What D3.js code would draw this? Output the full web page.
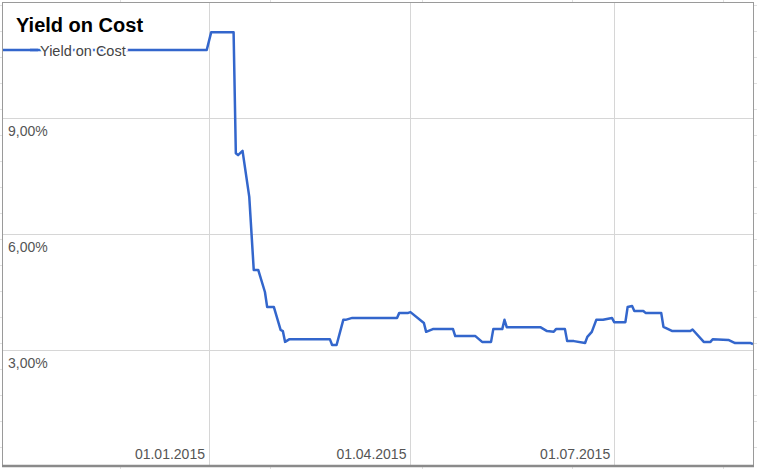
<!DOCTYPE html>
<html>
<head>
<meta charset="utf-8">
<script src="https://cdn.jsdelivr.net/npm/d3@7"></script>
<style>
  body { margin: 0; background: #fff; }
  svg { display: block; font-family: "Liberation Sans", Arial, sans-serif; }
</style>
</head>
<body>
<svg id="chart" width="757" height="469"></svg>
<script>
// series
var dates = [
  "2014-10-01", "2014-12-31", "2015-01-02", "2015-01-12", "2015-01-13",
  "2015-01-14", "2015-01-16", "2015-01-19", "2015-01-21", "2015-01-23",
  "2015-01-26", "2015-01-27", "2015-01-30", "2015-02-02", "2015-02-03",
  "2015-02-04", "2015-02-06", "2015-02-24", "2015-02-25", "2015-02-27",
  "2015-03-02", "2015-03-03", "2015-03-06", "2015-03-26", "2015-03-27",
  "2015-03-31", "2015-04-01", "2015-04-07", "2015-04-08", "2015-04-11",
  "2015-04-20", "2015-04-21", "2015-04-30", "2015-05-03", "2015-05-07",
  "2015-05-08", "2015-05-12", "2015-05-13", "2015-05-14", "2015-05-29",
  "2015-06-01", "2015-06-04", "2015-06-05", "2015-06-09", "2015-06-10",
  "2015-06-13", "2015-06-18", "2015-06-19", "2015-06-21", "2015-06-23",
  "2015-06-26", "2015-06-30", "2015-07-01", "2015-07-06", "2015-07-07",
  "2015-07-09", "2015-07-10", "2015-07-14", "2015-07-15", "2015-07-22",
  "2015-07-23", "2015-07-27", "2015-08-04", "2015-08-05", "2015-08-10",
  "2015-08-13", "2015-08-14", "2015-08-21", "2015-08-24", "2015-08-31",
  "2015-09-01"
];
var yieldOnCost = [
  10.76, 10.76, 11.22, 11.22, 8.09,
  8.04, 8.15, 6.96, 5.07, 5.07,
  4.50, 4.11, 4.11, 3.52, 3.49,
  3.21, 3.28, 3.28, 3.13, 3.13,
  3.78, 3.78, 3.83, 3.83, 3.96,
  3.96, 3.98, 3.70, 3.47, 3.54,
  3.54, 3.36, 3.36, 3.21, 3.21,
  3.54, 3.54, 3.78, 3.59, 3.59,
  3.49, 3.47, 3.54, 3.54, 3.23,
  3.23, 3.18, 3.34, 3.47, 3.78,
  3.78, 3.83, 3.72, 3.72, 4.11,
  4.14, 4.01, 4.01, 3.96, 3.96,
  3.60, 3.49, 3.49, 3.53, 3.21,
  3.21, 3.28, 3.26, 3.18, 3.18,
  3.15
];
var xTicks = ["2015-01-01", "2015-04-01", "2015-07-01"];
var yTicks = [3, 6, 9, 12];
var xDomain = ["2014-10-01", "2015-09-01"];
var yDomain = [0, 12];
var title = "Yield on Cost";
var seriesName = "Yield on Cost";

var parse = d3.timeParse("%Y-%m-%d");
var fmtDate = d3.timeFormat("%d.%m.%Y");
var fmtPct = function(v) { return d3.format(".2f")(v).replace(".", ",") + "%"; };

var svg = d3.select("#chart");
var W = 757, H = 469;
var box = {left: 3, right: 753, top: 2, bottom: 466};

// spreadsheet cell lines peeking round the chart
var sheet = svg.append("g").attr("stroke", "#e0e0e0").attr("shape-rendering", "crispEdges");
d3.range(5, H, 26).forEach(function(y) {
  sheet.append("line").attr("x1", 0).attr("x2", W).attr("y1", y + 0.5).attr("y2", y + 0.5);
});
[120, 270, 422, 572, 723].forEach(function(x) {
  sheet.append("line").attr("x1", x + 0.5).attr("x2", x + 0.5).attr("y1", 0).attr("y2", H);
});

svg.append("rect")
  .attr("x", box.left).attr("y", box.top)
  .attr("width", box.right - box.left).attr("height", box.bottom - box.top)
  .attr("fill", "#fff");

var x = d3.scaleTime()
  .domain(xDomain.map(parse))
  .range([box.left, box.right]);
var y = d3.scaleLinear()
  .domain(yDomain)
  .range([box.bottom, box.top]);

// gridlines
var grid = svg.append("g").attr("stroke", "#d6d6d6").attr("shape-rendering", "crispEdges");
grid.selectAll(".gy").data(yTicks).enter().append("line")
  .attr("x1", box.left).attr("x2", box.right)
  .attr("y1", function(d) { return Math.round(y(d)) + 0.5; })
  .attr("y2", function(d) { return Math.round(y(d)) + 0.5; });
grid.selectAll(".gx").data(xTicks).enter().append("line")
  .attr("y1", box.top).attr("y2", box.bottom)
  .attr("x1", function(d) { return Math.round(x(parse(d))) + 0.5; })
  .attr("x2", function(d) { return Math.round(x(parse(d))) + 0.5; });

// axis labels sit inside the plot
svg.append("g").selectAll("text").data(yTicks.filter(function(d) { return d < 12; }))
  .enter().append("text")
  .attr("x", box.left + 5)
  .attr("y", function(d) { return y(d) + 18; })
  .attr("font-size", 14).attr("fill", "#555")
  .text(fmtPct);
svg.append("g").selectAll("text").data(xTicks)
  .enter().append("text")
  .attr("x", function(d) { return x(parse(d)) - 4; })
  .attr("y", 459)
  .attr("text-anchor", "end")
  .attr("font-size", 14).attr("fill", "#555")
  .text(function(d) { return fmtDate(parse(d)); });

// the series
var points = dates.map(function(d, i) { return [parse(d), yieldOnCost[i]]; });
var line = d3.line()
  .x(function(d) { return x(d[0]); })
  .y(function(d) { return y(d[1]); });
svg.append("path")
  .datum(points)
  .attr("d", line)
  .attr("fill", "none")
  .attr("stroke", "#3366cc")
  .attr("stroke-width", 2.5)
  .attr("stroke-linejoin", "round");

// frame and baseline
svg.append("rect")
  .attr("x", box.left - 0.5).attr("y", box.top + 0.5)
  .attr("width", box.right - box.left + 1).attr("height", box.bottom - box.top - 1)
  .attr("fill", "none").attr("stroke", "#9a9a9a");
svg.append("line")
  .attr("x1", box.left - 1).attr("x2", box.right + 1)
  .attr("y1", y(0)).attr("y2", y(0))
  .attr("stroke", "#8a8a8a").attr("stroke-width", 2.5);

// title and legend
svg.append("text")
  .attr("x", 16).attr("y", 32)
  .attr("font-size", 20).attr("font-weight", "bold").attr("fill", "#000")
  .text(title);
svg.append("line")
  .attr("x1", 30).attr("x2", 38).attr("y1", 50).attr("y2", 50)
  .attr("stroke", "#3366cc").attr("stroke-width", 2.5);
svg.append("text")
  .attr("x", 40).attr("y", 56)
  .attr("font-size", 14.5).attr("fill", "#444")
  .attr("stroke", "#fff").attr("stroke-width", 4).attr("paint-order", "stroke")
  .text(seriesName);
</script>
</body>
</html>
